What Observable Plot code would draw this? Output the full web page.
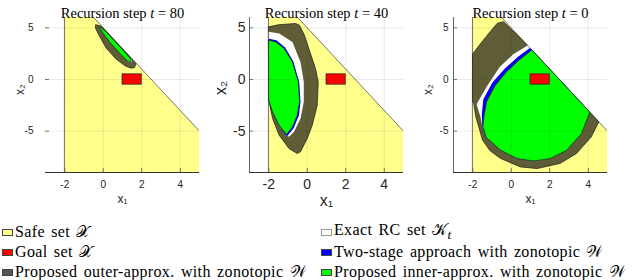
<!DOCTYPE html>
<html><head><meta charset="utf-8">
<script src="https://cdn.jsdelivr.net/npm/d3@7"></script>
<script src="https://cdn.jsdelivr.net/npm/@observablehq/plot@0.6"></script>
<style>
html,body{margin:0;padding:0;background:#fff;}
#root{position:relative;width:640px;height:280px;overflow:hidden;}
.panel{position:absolute;top:0;}
.leg{position:absolute;height:18px;display:flex;align-items:center;font-family:"Liberation Serif",serif;font-size:16px;letter-spacing:0.35px;word-spacing:2px;white-space:nowrap;color:#000;}
.sw{display:inline-block;width:11px;height:7px;box-sizing:border-box;border:1px solid #555;margin-right:2px;}
</style></head><body><div id="root"></div>
<script>
// ---------------- data ----------------
const steps = [80, 40, 0];
const titles = steps.map(s => `Recursion step t = ${s}`);
const xTicks = [-2, 0, 2, 4];
const yTicks = [-5, 0, 5];
const xDomain = [-3, 5];
const yDomain = [-9, 6];
// safe set polytope: x >= -2, y <= -2x + 5 (clipped by the axes)
const safeSet = [[-2, 9], [7, -9], [7, -10], [-2, -10]];
const goalX = [1, 2];
const goalY = [-0.5, 0.5];

// t = 80
const outer80 = [[-0.38,5.3],[-0.1,5.15],[0.3,4.35],[0.7,3.55],[1.1,2.75],[1.45,2.05],[1.7,1.5],[1.62,1.15],[1.45,1.1],[1.15,1.3],[0.65,2.0],[0.15,3.05],[-0.2,4.2],[-0.4,4.95]];
const exact80 = [[-0.16,5.07],[1.48,1.9],[1.48,1.66],[1.3,1.75],[-0.19,4.95]];
const blue80 = [[-0.15,5.06],[1.46,1.93],[1.44,1.7],[-0.18,4.95]];
const green80 = [[-0.15,5.05],[0.1,4.7],[0.5,3.9],[0.9,3.1],[1.25,2.35],[1.45,1.95],[1.42,1.72],[1.25,1.82],[0.85,2.55],[0.35,3.6],[0.0,4.45],[-0.18,4.95]];

// t = 40
const outer40 = [[-2,5.1],[-1.5,5.3],[-0.6,5.42],[-0.4,5.25],[-0.15,4.3],[0.08,3.0],[0.43,1.06],[0.57,-0.23],[0.52,-2.49],[0.26,-4.42],[0,-5.71],[-0.35,-7.0],[-0.52,-7.16],[-0.95,-6.68],[-1.46,-5.39],[-1.8,-3.78],[-2,-2.0]];
const exact40 = [[-2,4.61],[-1.46,4.45],[-0.77,3.64],[-0.35,1.7],[-0.18,-0.23],[-0.18,-2.17],[-0.35,-3.78],[-0.69,-5.07],[-0.95,-5.55],[-1.08,-5.4],[-1.46,-4.42],[-1.8,-3.13],[-2,-2.0]];
const blue40 = [[-2,3.95],[-1.6,3.8],[-1.15,3.1],[-0.72,1.75],[-0.42,-0.23],[-0.35,-2.17],[-0.43,-3.46],[-0.7,-4.7],[-1.03,-5.46],[-1.1,-5.4],[-1.46,-4.42],[-1.8,-3.13],[-2,-2.0]];
const green40 = [[-2,3.8],[-1.63,3.64],[-1.2,3.0],[-0.77,1.7],[-0.46,-0.23],[-0.4,-2.17],[-0.52,-3.46],[-0.77,-4.59],[-1.08,-5.33],[-1.46,-4.42],[-1.8,-3.13],[-2,-2.0]];

// t = 0
const outer0 = [[-2,2.5],[-1.5,3.7],[-1.0,4.85],[-0.72,5.45],[-0.4,5.6],[0.9,3.2],[2.5,0],[4.55,-4.1],[4.16,-5.55],[3.39,-7.16],[2.53,-8.13],[1.34,-8.62],[0.48,-8.46],[-0.55,-7.65],[-1.1,-6.9],[-1.49,-5.88],[-1.84,-3.62],[-1.95,-2.3],[-2,-2.2]];
const exact0 = [[-1.8,-2.4],[-1.23,-0.55],[-0.6,1.2],[0.1,2.45],[0.85,3.3],[2.5,0],[4.08,-3.16],[3.65,-5.23],[2.88,-6.84],[2.02,-7.65],[1.16,-7.88],[0.31,-7.65],[-0.55,-6.84],[-1.3,-5.6],[-1.5,-4.6],[-1.6,-3.6]];
const blue0 = [[-1.53,-3.4],[-1.45,-1.9],[-0.98,-0.3],[-0.33,1.06],[0.35,2.19],[0.97,3.06],[2.5,0],[4.08,-3.16],[3.65,-5.23],[2.88,-6.84],[2.02,-7.65],[1.16,-7.88],[0.31,-7.65],[-0.55,-6.84],[-1.3,-5.6],[-1.5,-4.6]];
const green0 = [[-1.42,-3.6],[-1.28,-2.15],[-0.85,-0.63],[-0.25,0.74],[0.4,1.87],[1.07,2.86],[2.5,0],[4.08,-3.16],[3.65,-5.23],[2.88,-6.84],[2.02,-7.65],[1.16,-7.88],[0.31,-7.65],[-0.55,-6.84],[-1.3,-5.6],[-1.47,-4.6]];

// legend
const legendLabels = ["Safe set 𝒳", "Goal set 𝒳", "Proposed outer-approx. with zonotopic 𝒲",
  "Exact RC set 𝒦<sub><i>t</i></sub>", "Two-stage approach with zonotopic 𝒲", "Proposed inner-approx. with zonotopic 𝒲"];

// ---------------- styles ----------------
const YELLOW = "#ffff8c", OLIVE = "#5f5d36", GREEN = "#00ff00", BLUE = "#0000ff", RED = "#ff0000";
const legendColors = [YELLOW, RED, "#555555", "#ffffff", BLUE, GREEN];

const panels = [
  {left: 0, title: titles[0], outer: outer80, exact: exact80, blue: blue80, green: green80, fs: 10, lfs: 12, yPad: 12, xPad: 8, yLab: 25, xLab: 30, leftAxis: false},
  {left: 204, title: titles[1], outer: outer40, exact: exact40, blue: blue40, green: green40, fs: 14, lfs: 16, yPad: 4, xPad: 7, yLab: 29, xLab: 33, leftAxis: true},
  {left: 408, title: titles[2], outer: outer0, exact: exact0, blue: blue0, green: green0, fs: 10, lfs: 12, yPad: 5, xPad: 8, yLab: 25, xLab: 30, leftAxis: true}
];

const root = document.getElementById("root");
const px = d => d[0], py = d => d[1];

for (const p of panels) {
  const shape = (data, fill, stroke, sw) => Plot.line(data, {x: px, y: py, curve: "linear-closed", fill, stroke: stroke || "none", strokeWidth: sw || 0, clip: true});
  const svg = Plot.plot({
    width: 200, height: 210,
    marginLeft: 45, marginRight: 1, marginTop: 17, marginBottom: 38,
    style: {fontFamily: "'Liberation Sans', Arial, sans-serif", fontSize: p.fs + "px", color: "#262626", background: "transparent", overflow: "visible"},
    x: {domain: xDomain, ticks: xTicks, tickSize: 0, tickPadding: p.xPad, tickFormat: d => String(d), label: null},
    y: {domain: yDomain, ticks: yTicks, tickSize: 0, tickPadding: p.yPad, tickFormat: d => String(d), label: null},
    marks: [
      shape(safeSet, YELLOW, "#555", 0.8),
      shape(p.outer, OLIVE, "#1a1a1a", 0.7),
      shape(p.exact, "#ffffff"),
      shape(p.blue, BLUE),
      shape(p.green, GREEN, "#111", 0.6),
      Plot.rect([0], {x1: () => goalX[0], x2: () => goalX[1], y1: () => goalY[0], y2: () => goalY[1], fill: RED, stroke: "#222", strokeWidth: 0.7}),
      Plot.ruleX(xTicks, {stroke: "#262626", strokeOpacity: 0.12, strokeWidth: 0.8}),
      Plot.ruleY(yTicks, {stroke: "#262626", strokeOpacity: 0.12, strokeWidth: 0.8}),
      Plot.tickY(yTicks, {y: d => d, stroke: "#555", strokeWidth: 0.8, insetRight: 150}),
      Plot.tickX(xTicks, {x: d => d, stroke: "#555", strokeWidth: 0.8, insetTop: 151}),
      Plot.ruleY([yDomain[0]], {stroke: "#333", strokeWidth: 1}),
      p.leftAxis ? Plot.ruleX([xDomain[0]], {stroke: "#666", strokeWidth: 1}) : null,
      Plot.text([p.title], {text: d => d, frameAnchor: "top", dy: -10, fontFamily: "'Liberation Serif', serif", fontSize: 14.5, fill: "#000"}),
      Plot.text(["x₁"], {text: d => d, frameAnchor: "bottom", dy: p.xLab, fontSize: p.lfs, fill: "#262626"}),
      Plot.text(["x₂"], {text: d => d, frameAnchor: "left", dx: -p.yLab, rotate: -90, fontSize: p.lfs, fill: "#262626"})
    ].filter(Boolean)
  });
  // italic t in titles
  d3.select(svg).selectAll("text").each(function() {
    const s = this.textContent;
    if (s.startsWith("Recursion")) {
      const parts = s.split(" t ");
      const sel = d3.select(this);
      sel.text(null);
      sel.append("tspan").text(parts[0] + " ");
      sel.append("tspan").attr("font-style", "italic").text("t");
      sel.append("tspan").text(" " + parts[1]);
    }
  });
  const div = document.createElement("div");
  div.className = "panel";
  div.style.left = p.left + "px";
  div.appendChild(svg);
  root.appendChild(div);
}

// legend
const rowsY = [232, 252, 272];
const colX = [2, 321];
legendLabels.forEach((lab, i) => {
  const col = Math.floor(i / 3), row = i % 3;
  const el = document.createElement("div");
  el.className = "leg";
  el.style.left = colX[col] + "px";
  el.style.top = (rowsY[row] - 9) + "px";
  el.innerHTML = `<span class="sw" style="background:${legendColors[i]};border-color:${i === 3 ? "#999" : "#444"}"></span><span>${lab}</span>`;
  root.appendChild(el);
});
</script></body></html>
